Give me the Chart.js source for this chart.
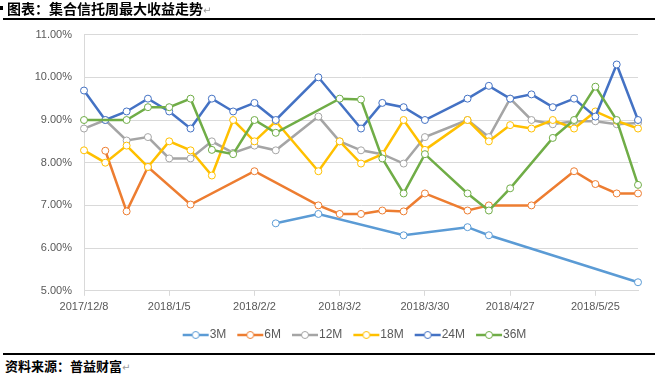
<!DOCTYPE html>
<html>
<head>
<meta charset="utf-8">
<script src="https://cdn.jsdelivr.net/npm/chart.js@4/dist/chart.umd.min.js"></script>
<style>
  html, body { margin: 0; padding: 0; background: #fff; }
  body { width: 658px; height: 376px; position: relative; overflow: hidden; }
  #title { position: absolute; left: 7px; top: 0px; line-height: 16px; font-family: "Noto Sans CJK SC", sans-serif; font-weight: 700; font-size: 14px; color: #000; white-space: nowrap; z-index: 2; }
  #bullet { position: absolute; left: 0px; top: 6px; width: 3px; height: 4px; background: #000; }
  .pm { color: #9a9a9a; font-weight: 400; font-size: 10px; font-family: "DejaVu Sans", sans-serif; }
  #topline { position: absolute; left: 3px; top: 18px; width: 652px; height: 2px; background: #000; z-index: 2; }
  #botline { position: absolute; left: 3px; top: 353px; width: 652px; height: 2px; background: #000; z-index: 2; }
  #source { position: absolute; left: 5px; top: 358px; line-height: 16px; font-family: "Noto Sans CJK SC", sans-serif; font-weight: 700; font-size: 13px; color: #000; white-space: nowrap; }
  #wrap { position: absolute; left: 0; top: 16px; width: 658px; height: 335px; z-index: 1; }
</style>
</head>
<body>
<div id="bullet"></div>
<div id="title">图表：集合信托周最大收益走势<span class="pm">↵</span></div>
<div id="topline"></div>
<div id="wrap"><canvas id="c"></canvas></div>
<div id="botline"></div>
<div id="source">资料来源：普益财富<span class="pm">↵</span></div>
<script>
// ---- data ----
const dates = ['2017/12/8','2017/12/15','2017/12/22','2017/12/29','2018/1/5','2018/1/12','2018/1/19','2018/1/26',
  '2018/2/2','2018/2/9','2018/2/16','2018/2/23','2018/3/2','2018/3/9','2018/3/16','2018/3/23','2018/3/30',
  '2018/4/6','2018/4/13','2018/4/20','2018/4/27','2018/5/4','2018/5/11','2018/5/18','2018/5/25','2018/6/1','2018/6/8'];
const tickDates = ['2017/12/8','2018/1/5','2018/2/2','2018/3/2','2018/3/30','2018/4/27','2018/5/25'];
const seriesNames = ['3M','6M','12M','18M','24M','36M'];
const m3  = [null,null,null,null,null,null,null,null,null,6.58,null,6.80,null,null,null,6.30,null,null,6.49,6.30,null,null,null,null,null,null,5.20];
const m6  = [null,8.28,6.86,7.90,null,7.02,null,null,7.80,null,null,7.00,6.80,6.80,6.88,6.86,7.28,null,6.88,7.00,null,7.00,null,7.80,7.50,7.28,7.28];
const m12 = [8.80,9.00,8.52,8.60,8.10,8.10,8.50,8.23,8.40,8.29,null,9.08,8.50,8.29,8.20,7.98,8.60,null,9.00,8.60,9.50,9.00,8.90,8.97,8.97,8.90,8.93];
const m18 = [8.29,8.00,8.40,7.90,8.50,8.29,7.70,9.00,8.50,8.97,null,7.80,8.50,7.98,8.20,9.00,8.30,null,9.00,8.50,8.88,8.80,9.00,8.80,9.20,8.98,8.80];
const m24 = [9.69,9.00,9.20,9.50,9.20,8.80,9.50,9.20,9.40,9.00,null,10.00,null,8.80,9.40,9.30,9.00,null,9.50,9.80,9.50,9.60,9.30,9.50,9.08,10.30,9.00];
const m36 = [9.00,null,9.00,9.30,9.30,9.50,8.30,8.20,9.00,8.70,null,null,9.50,9.48,8.10,7.28,8.20,null,7.28,6.88,7.40,null,8.58,9.00,9.78,9.00,7.48];
const seriesValues = [m3, m6, m12, m18, m24, m36];
const colors = ['#5B9BD5','#ED7D31','#A5A5A5','#FFC000','#4472C4','#70AD47'];

const FONT = '"Liberation Sans", Arial, sans-serif';
const TXT = '#595959';

function legendMarker(color) {
  const cv = document.createElement('canvas');
  cv.width = 34; cv.height = 10;
  const g = cv.getContext('2d');
  g.strokeStyle = color; g.lineWidth = 2.5;
  g.beginPath(); g.moveTo(7, 5); g.lineTo(33, 5); g.stroke();
  g.beginPath(); g.arc(20, 5, 3.5, 0, Math.PI * 2);
  g.fillStyle = '#fff'; g.fill();
  g.lineWidth = 1; g.strokeStyle = color; g.stroke();
  return cv;
}
const markers = colors.map(legendMarker);

const datasets = seriesNames.map((name, i) => ({
  label: name,
  data: seriesValues[i],
  borderColor: colors[i],
  backgroundColor: colors[i],
  borderWidth: 2.5,
  pointRadius: 3.5,
  pointBackgroundColor: '#fff',
  pointBorderColor: colors[i],
  pointBorderWidth: 1,
  spanGaps: true,
  tension: 0,
  order: seriesNames.length - 1 - i
}));

const legendShift = {
  id: 'legendShift',
  afterLayout(chart) { if (chart.legend) { chart.legend.left += 40; } }
};

new Chart(document.getElementById('c'), {
  type: 'line',
  data: { labels: dates, datasets },
  plugins: [legendShift],
  options: {
    responsive: true,
    maintainAspectRatio: false,
    animation: false,
    layout: { padding: { left: 30, right: 20, top: 0, bottom: 0 } },
    plugins: {
      tooltip: { enabled: false },
      legend: {
        position: 'bottom',
        labels: {
          usePointStyle: true,
          pointStyleWidth: 22,
          padding: 10,
          color: TXT,
          font: { family: FONT, size: 12 },
          generateLabels: (chart) => chart.data.datasets.map((ds, i) => ({
            text: ds.label, datasetIndex: i, pointStyle: markers[i],
            fillStyle: colors[i], strokeStyle: colors[i], lineWidth: 0,
            hidden: false, fontColor: TXT
          }))
        }
      }
    },
    scales: {
      x: {
        type: 'category',
        offset: false,
        border: { display: true, color: '#D9D9D9', width: 1 },
        grid: {
          drawOnChartArea: false,
          drawTicks: true,
          tickLength: 5,
          color: (ctx) => (tickDates.includes(dates[ctx.index]) ? '#D9D9D9' : 'rgba(0,0,0,0)')
        },
        ticks: {
          autoSkip: false,
          maxRotation: 0,
          padding: 5,
          color: TXT,
          font: { family: FONT, size: 11 },
          callback: (v, i) => (tickDates.includes(dates[i]) ? dates[i] : '')
        }
      },
      y: {
        min: 5, max: 11,
        afterFit: (s) => { s.width = 54; },
        border: { display: true, color: '#D9D9D9', width: 1 },
        grid: { color: '#D9D9D9', drawTicks: false, lineWidth: 1 },
        ticks: {
          stepSize: 1,
          padding: 12,
          color: TXT,
          font: { family: FONT, size: 11 },
          callback: (v) => v.toFixed(2) + '%'
        }
      }
    }
  }
});
</script>
</body>
</html>
